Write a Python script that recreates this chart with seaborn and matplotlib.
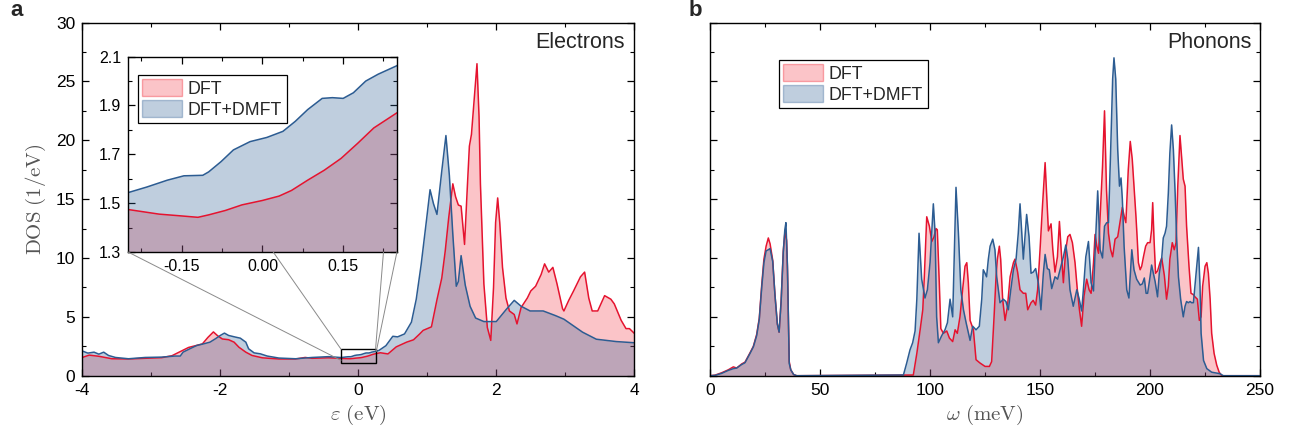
import matplotlib

matplotlib.use("Agg")

import matplotlib.pyplot as plt
import numpy as np
import pandas as pd
import seaborn as sns
from matplotlib.patches import ConnectionPatch, Patch, Rectangle
from matplotlib.ticker import MultipleLocator, NullFormatter


# electrons, DFT (energy in eV, DOS in 1/eV)
E_DFT = [-4.00, -3.90, -3.76, -3.57, -3.33, -3.09, -2.85, -2.70, -2.58, -2.46, -2.36, -2.26,
         -2.18, -2.10, -2.04, -1.97, -1.88, -1.80, -1.73, -1.63, -1.54, -1.39, -1.15, -0.91,
         -0.77, -0.67, -0.43, -0.25, -0.192, -0.158, -0.12, -0.10, -0.069, -0.038, 0.0,
         0.031, 0.054, 0.084, 0.115, 0.146, 0.177, 0.207, 0.25, 0.32, 0.43, 0.55, 0.70,
         0.80, 0.89, 0.94, 1.06, 1.14, 1.21, 1.26, 1.31, 1.37, 1.41, 1.45, 1.49, 1.54,
         1.58, 1.61, 1.64, 1.68, 1.72, 1.75, 1.77, 1.82, 1.87, 1.92, 1.96, 1.99, 2.02,
         2.05, 2.09, 2.14, 2.19, 2.26, 2.30, 2.36, 2.45, 2.50, 2.57, 2.65, 2.70, 2.76,
         2.82, 2.88, 2.96, 2.98, 3.05, 3.12, 3.22, 3.28, 3.34, 3.39, 3.47, 3.57, 3.66,
         3.71, 3.81, 3.88, 3.93, 4.00]
DOS_DFT = [1.55, 1.75, 1.65, 1.44, 1.42, 1.48, 1.53, 1.70, 2.05, 2.40, 2.55, 2.70,
           3.25, 3.72, 3.40, 3.12, 3.06, 2.85, 2.42, 2.00, 1.72, 1.52, 1.42, 1.42,
           1.55, 1.48, 1.52, 1.474, 1.455, 1.449, 1.442, 1.452, 1.470, 1.493, 1.511,
           1.529, 1.552, 1.594, 1.635, 1.683, 1.745, 1.808, 1.87, 1.95, 1.85, 2.45, 2.85,
           3.05, 3.55, 3.85, 4.15, 6.45, 8.3, 10.6, 13.4, 16.3, 15.2, 14.5, 14.4, 11.15,
           16.0, 19.5, 20.5, 23.5, 26.5, 22.0, 16.3, 7.8, 4.1, 3.0, 7.5, 13.0, 15.1,
           13.0, 9.2, 6.6, 5.5, 5.2, 4.4, 5.8, 6.6, 7.2, 7.6, 8.6, 9.5, 8.8,
           9.2, 7.8, 5.7, 5.5, 6.4, 7.2, 8.4, 8.8, 6.6, 5.5, 5.5, 6.8, 6.5,
           6.1, 4.7, 4.0, 4.0, 3.6]

# electrons, DFT+DMFT
E_DMFT = [-4.00, -3.92, -3.83, -3.76, -3.69, -3.62, -3.52, -3.33, -3.09, -2.85, -2.66, -2.58,
          -2.54, -2.44, -2.34, -2.24, -2.15, -2.07, -2.00, -1.94, -1.88, -1.78, -1.71, -1.63,
          -1.59, -1.51, -1.42, -1.32, -1.15, -0.91, -0.67, -0.43, -0.25, -0.215, -0.177,
          -0.146, -0.111, -0.10, -0.077, -0.054, -0.023, 0.008, 0.038, 0.061, 0.084, 0.111,
          0.13, 0.15, 0.169, 0.192, 0.215, 0.25, 0.30, 0.40, 0.50, 0.57, 0.67, 0.77, 0.84,
          0.91, 0.99, 1.04, 1.09, 1.14, 1.21, 1.27, 1.32, 1.37, 1.42, 1.45, 1.49, 1.55,
          1.62, 1.70, 1.82, 2.00, 2.14, 2.26, 2.36, 2.49, 2.68, 2.86, 2.98, 3.25, 3.45,
          3.74, 4.00]
DOS_DMFT = [2.10, 1.92, 2.00, 1.83, 2.00, 1.72, 1.55, 1.44, 1.55, 1.58, 1.67, 1.67,
            2.00, 2.29, 2.57, 2.71, 2.85, 3.14, 3.42, 3.62, 3.42, 3.28, 3.19, 2.85,
            2.29, 1.94, 1.86, 1.67, 1.50, 1.44, 1.55, 1.62, 1.543, 1.566, 1.594,
            1.612, 1.614, 1.628, 1.67, 1.718, 1.752, 1.769, 1.794, 1.835, 1.883, 1.929,
            1.932, 1.929, 1.952, 2.0, 2.028, 2.063, 2.15, 2.55, 3.35, 3.30, 3.55, 4.55, 6.5,
            9.4, 13.3, 15.8, 14.6, 13.7, 17.4, 20.4, 17.0, 12.0, 7.6, 8.0, 10.2, 7.7,
            5.9, 4.9, 4.6, 4.6, 5.6, 6.4, 5.9, 5.5, 5.5, 5.1, 4.8, 3.7, 3.1,
            2.9, 2.8]

# phonons, DFT (frequency in meV)
W_DFT = [0, 2.3, 5.3, 8.3, 10.6, 12.1, 14.4, 15.9, 18.2, 19.7, 21.2, 22.4, 23.5, 24.5, 25.5,
         26.5, 27.3, 28.5, 29.5, 30.6, 31.4, 32.3, 33.3, 34.1, 34.8, 35.2, 36.0, 36.7, 38.0,
         39.4, 92.4, 94.0, 95.5, 96.7, 97.4, 98.5, 99.7, 100.8, 101.8, 102.7, 103.3, 104.2,
         104.9, 106.1, 107.6, 108.8, 110.3, 111.4, 112.4, 113.6, 114.8, 115.9, 116.7, 117.4,
         118.2, 119.7, 120.9, 122.7, 125.0, 127.0, 128.0, 129.1, 130.0, 130.6, 131.5, 132.1,
         133.0, 134.1, 135.2, 136.4, 137.9, 138.6, 139.8, 140.9, 142.4, 143.5, 144.4, 145.9,
         146.9, 148.0, 148.9, 150.0, 151.1, 152.3, 153.0, 153.8, 155.0, 155.8, 156.8, 157.9,
         158.8, 159.6, 160.6, 161.7, 162.6, 163.6, 164.7, 165.9, 166.9, 167.9, 168.9, 170.0,
         171.2, 172.3, 173.2, 174.3, 175.0, 175.8, 176.6, 177.3, 178.4, 179.3, 180.2, 181.1,
         182.1, 183.0, 184.1, 185.3, 186.3, 187.4, 188.3, 189.0, 190.1, 191.0, 191.9, 192.8,
         193.6, 194.2, 194.7, 195.5, 196.2, 197.0, 198.0, 198.9, 200.0, 200.7, 201.2, 201.8,
         202.5, 203.4, 204.5, 205.3, 206.5, 207.5, 208.3, 209.0, 210.1, 211.0, 211.8, 212.6,
         213.6, 214.3, 215.1, 215.9, 216.6, 217.7, 218.6, 219.6, 220.4, 221.5, 222.4, 223.2,
         223.9, 225.0, 225.8, 226.5, 227.3, 228.0, 229.1, 230.3, 231.4, 232.6, 250.0]
PH_DFT = [0, 0.05, 0.25, 0.5, 0.75, 0.65, 1.0, 1.15, 1.95, 2.5, 3.5, 4.9, 7.7, 9.9, 11.0,
          11.7, 11.2, 9.8, 6.9, 4.4, 3.7, 6.3, 10.6, 12.3, 11.5, 9.0, 1.2, 0.5, 0.1,
          0, 0.06, 1.9, 3.9, 5.6, 8.4, 13.5, 12.7, 11.4, 11.8, 12.5, 12.4, 7.9,
          4.0, 3.6, 3.8, 3.2, 2.9, 3.9, 3.6, 5.0, 7.3, 9.3, 9.6, 7.9,
          4.7, 3.9, 1.36, 1.08, 0.79, 0.79, 1.2, 5.0, 8.4, 9.9, 11.0, 9.9,
          6.5, 4.7, 5.9, 8.4, 9.6, 9.9, 8.8, 7.3, 7.0, 7.0, 5.6, 6.2,
          6.4, 6.0, 7.3, 10.7, 14.4, 18.1, 15.3, 12.3, 12.9, 10.7, 8.8, 10.1,
          13.1, 10.7, 7.9, 10.7, 11.8, 12.0, 11.3, 9.6, 7.4, 5.6, 4.2, 6.8,
          8.2, 7.3, 7.0, 9.6, 12.0, 11.0, 10.4, 13.5, 17.8, 22.5, 15.8, 12.1,
          10.7, 10.1, 11.6, 11.8, 13.0, 14.3, 13.5, 13.0, 17.5, 19.9, 18.4, 15.8,
          13.5, 11.5, 9.6, 9.0, 9.3, 10.1, 11.0, 11.3, 11.3, 12.4, 14.7, 11.6,
          8.7, 8.9, 9.6, 10.0, 8.5, 6.5, 7.6, 9.9, 11.3, 10.7, 11.3, 16.1,
          20.4, 18.7, 16.7, 16.1, 12.7, 9.3, 7.0, 6.9, 6.7, 6.5, 4.7, 5.0,
          7.6, 9.3, 9.6, 8.7, 6.5, 3.6, 1.9, 0.9, 0.3, 0.0, 0.0]

# phonons, DFT+DMFT
W_DMFT = [0, 2.3, 5.3, 8.3, 10.6, 12.1, 14.4, 15.9, 18.2, 19.7, 21.2, 22.4, 23.5, 24.5, 25.5,
          26.5, 27.3, 28.5, 29.5, 30.6, 31.4, 32.3, 33.3, 34.0, 34.5, 35.2, 36.0, 36.7, 38.0,
          39.4, 87.9, 89.4, 90.9, 92.1, 93.2, 94.0, 95.0, 96.2, 97.7, 98.8, 100.0, 101.5,
          102.3, 103.0, 103.8, 105.3, 106.8, 107.9, 109.1, 110.3, 111.1, 111.8, 112.9, 114.0,
          115.2, 116.4, 118.2, 119.4, 120.9, 122.4, 123.5, 124.2, 125.0, 125.7, 126.5, 127.3,
          128.5, 129.5, 130.3, 131.8, 133.3, 134.5, 135.6, 136.7, 137.9, 139.1, 140.1, 140.9,
          142.4, 143.9, 145.0, 145.9, 146.9, 148.0, 149.2, 150.4, 151.5, 152.3, 153.3, 154.2,
          155.3, 156.8, 158.0, 159.1, 160.6, 161.7, 162.6, 163.6, 165.1, 166.7, 167.7, 168.9,
          169.7, 170.8, 172.0, 173.2, 174.3, 175.3, 176.2, 177.3, 178.4, 179.3, 180.3, 181.1,
          182.1, 183.0, 183.6, 184.4, 185.3, 186.1, 186.8, 187.4, 188.2, 189.4, 190.4, 191.7,
          192.7, 193.9, 195.5, 196.5, 197.4, 198.2, 198.9, 200.0, 200.7, 201.5, 202.3, 203.4,
          204.2, 205.3, 206.0, 206.8, 207.5, 208.3, 209.0, 209.8, 210.6, 211.4, 212.1, 212.9,
          213.9, 215.1, 215.9, 216.6, 217.4, 218.2, 218.9, 219.7, 220.4, 221.4, 222.0, 222.7,
          223.2, 224.3, 225.8, 228.0, 231.8, 233.3, 250.0]
PH_DMFT = [0, 0.03, 0.2, 0.45, 0.6, 0.65, 0.95, 1.1, 1.9, 2.45, 3.4, 4.8, 7.5, 9.6, 10.6,
           10.7, 10.8, 9.7, 6.9, 4.4, 3.7, 6.2, 10.5, 12.4, 13.0, 9.3, 1.05, 0.5, 0.1,
           0, 0.06, 1.08, 2.2, 2.8, 3.8, 6.5, 12.1, 8.2, 6.6, 7.3, 9.6, 14.6,
           12.1, 5.0, 2.8, 3.4, 3.9, 4.5, 6.5, 5.0, 10.7, 16.0, 12.1, 7.3,
           5.6, 4.5, 3.0, 4.2, 3.9, 4.2, 6.5, 9.0, 8.7, 8.4, 9.9, 11.0,
           11.6, 10.7, 8.4, 6.2, 6.5, 6.3, 5.6, 7.3, 9.0, 9.9, 12.1, 14.6,
           9.9, 13.7, 11.8, 8.7, 8.8, 9.1, 7.9, 5.6, 8.7, 10.3, 9.1, 9.0,
           7.4, 8.4, 8.2, 9.0, 10.1, 11.1, 9.9, 7.3, 5.9, 7.3, 6.6, 5.5,
           7.3, 10.1, 11.4, 7.9, 7.2, 11.8, 15.7, 10.7, 10.0, 12.7, 13.0, 13.0,
           19.2, 25.2, 27.0, 25.2, 19.2, 16.1, 16.8, 15.0, 11.0, 7.3, 6.6, 10.7,
           9.0, 8.2, 7.7, 7.8, 8.3, 7.0, 7.0, 8.4, 9.4, 8.7, 8.0, 6.7,
           8.7, 10.0, 11.7, 12.1, 12.7, 15.5, 18.9, 21.3, 19.2, 15.5, 11.6, 8.4,
           6.5, 5.0, 5.9, 6.3, 6.2, 6.3, 6.2, 6.2, 7.6, 9.6, 10.9, 7.6,
           3.6, 1.3, 0.6, 0.3, 0.17, 0.0, 0.0]

SERIES = ["DFT", "DFT+DMFT"]
LINE_COLORS = {"DFT": "#e5132f", "DFT+DMFT": "#2c5c92"}
FILL_COLORS = {"DFT": (0.94, 0.09, 0.14, 0.25), "DFT+DMFT": (0.18, 0.37, 0.58, 0.30)}


def set_theme() -> None:
    sns.set_theme(style="ticks")
    plt.rcParams.update(
        {
            "font.family": ["Liberation Sans", "DejaVu Sans"],
            "mathtext.fontset": "cm",
            "axes.unicode_minus": False,
            "axes.linewidth": 1.0,
            "axes.edgecolor": "black",
            "xtick.direction": "in",
            "ytick.direction": "in",
            "xtick.top": True,
            "ytick.right": True,
            "xtick.major.size": 5,
            "ytick.major.size": 5,
            "xtick.minor.size": 2.8,
            "ytick.minor.size": 2.8,
            "xtick.major.width": 0.9,
            "ytick.major.width": 0.9,
            "xtick.minor.width": 0.8,
            "ytick.minor.width": 0.8,
            "xtick.color": "black",
            "ytick.color": "black",
            "xtick.labelsize": 12.5,
            "ytick.labelsize": 12.5,
        }
    )


def draw_dos(ax, frames: dict) -> None:
    for name in SERIES:
        d = frames[name]
        ax.fill_between(d["x"], 0, d["y"], color=FILL_COLORS[name], linewidth=0)
    for name in SERIES:
        d = frames[name]
        sns.lineplot(data=d, x="x", y="y", ax=ax, color=LINE_COLORS[name], linewidth=1.1,
                     estimator=None, sort=False, legend=False)
    ax.set_xlabel("")
    ax.set_ylabel("")


def add_legend(ax, anchor) -> None:
    handles = [Patch(facecolor=FILL_COLORS[n], edgecolor=FILL_COLORS[n][:3] + (0.35,), linewidth=1.0, label=n)
               for n in SERIES]
    leg = ax.legend(handles=handles, loc="upper left", bbox_to_anchor=anchor,
                    bbox_transform=ax.figure.transFigure, fontsize=12.8, frameon=True,
                    fancybox=False, edgecolor="black", framealpha=1, borderpad=0.25,
                    handlelength=2.2, handleheight=1.05, handletextpad=0.35, labelspacing=0.15,
                    borderaxespad=0)
    leg.get_frame().set_linewidth(0.9)


def main() -> None:
    set_theme()
    elec = {
        "DFT": pd.DataFrame({"x": E_DFT, "y": DOS_DFT}),
        "DFT+DMFT": pd.DataFrame({"x": E_DMFT, "y": DOS_DMFT}),
    }
    phon = {
        "DFT": pd.DataFrame({"x": W_DFT, "y": PH_DFT}),
        "DFT+DMFT": pd.DataFrame({"x": W_DMFT, "y": PH_DMFT}),
    }

    fig = plt.figure(figsize=(12.9, 4.38), dpi=100)
    ax_a = fig.add_axes([0.0638, 0.1422, 0.4279, 0.8064])
    ax_b = fig.add_axes([0.5504, 0.1422, 0.4264, 0.8064])
    ax_in = fig.add_axes([0.0992, 0.4247, 0.2085, 0.446])

    # panel a: electrons
    draw_dos(ax_a, elec)
    ax_a.set_xlim(-4, 4)
    ax_a.set_ylim(0, 30)
    ax_a.xaxis.set_major_locator(MultipleLocator(2))
    ax_a.xaxis.set_minor_locator(MultipleLocator(1))
    ax_a.yaxis.set_major_locator(MultipleLocator(5))
    ax_a.yaxis.set_minor_locator(MultipleLocator(2.5))
    ax_a.set_xlabel(r"$\varepsilon\ (\mathrm{eV})$", fontsize=15, color="#555555", labelpad=4)
    ax_a.set_ylabel(r"$\mathrm{DOS}\ (1/\mathrm{eV})$", fontsize=15, color="#555555", labelpad=6)
    ax_a.text(0.983, 0.942, "Electrons", transform=ax_a.transAxes, ha="right", va="center", fontsize=15.5)

    # inset zoom around the Fermi level
    draw_dos(ax_in, elec)
    ax_in.set_xlim(-0.25, 0.25)
    ax_in.set_ylim(1.3, 2.1)
    ax_in.xaxis.set_major_locator(MultipleLocator(0.15))
    ax_in.xaxis.set_minor_locator(MultipleLocator(0.075))
    ax_in.yaxis.set_major_locator(MultipleLocator(0.2, offset=0.1))
    ax_in.yaxis.set_minor_locator(MultipleLocator(0.1))
    ax_in.xaxis.set_major_formatter(lambda v, _p: f"{v:.2f}")
    ax_in.yaxis.set_major_formatter(lambda v, _p: f"{v:.1f}")
    ax_in.tick_params(labelsize=11.5)
    ax_in.set_facecolor("white")
    add_legend(ax_in, (0.107, 0.829))

    ax_a.add_patch(Rectangle((-0.25, 1.1), 0.5, 1.15, fill=False, edgecolor="black", linewidth=1.0, zorder=5))
    for pa, pb in [((-0.25, 1.3), (-0.25, 1.3)), ((0.02, 1.3), (-0.25, 2.25)),
                   ((0.225, 1.3), (0.25, 2.25)), ((0.25, 1.3), (0.26, 2.05))]:
        con = ConnectionPatch(xyA=pa, coordsA=ax_in.transData, xyB=pb, coordsB=ax_a.transData,
                              color="#8a8a8a", linewidth=0.7)
        fig.add_artist(con)

    # panel b: phonons
    draw_dos(ax_b, phon)
    ax_b.set_xlim(0, 250)
    ax_b.set_ylim(0, 30)
    ax_b.xaxis.set_major_locator(MultipleLocator(50))
    ax_b.xaxis.set_minor_locator(MultipleLocator(25))
    ax_b.yaxis.set_major_locator(MultipleLocator(5))
    ax_b.yaxis.set_minor_locator(MultipleLocator(2.5))
    ax_b.yaxis.set_major_formatter(NullFormatter())
    ax_b.set_xlabel(r"$\omega\ (\mathrm{meV})$", fontsize=15, color="#555555", labelpad=4)
    ax_b.text(0.984, 0.942, "Phonons", transform=ax_b.transAxes, ha="right", va="center", fontsize=15.5)
    add_legend(ax_b, (0.6039, 0.863))

    for ax in (ax_a, ax_b, ax_in):
        ax.tick_params(which="both", pad=5)

    fig.text(0.013, 0.975, "a", fontsize=16, fontweight="bold", ha="center", va="center")
    fig.text(0.5394, 0.975, "b", fontsize=16, fontweight="bold", ha="center", va="center")

    fig.savefig("out.png", dpi=100, facecolor="white")
    plt.close(fig)


if __name__ == "__main__":
    main()
